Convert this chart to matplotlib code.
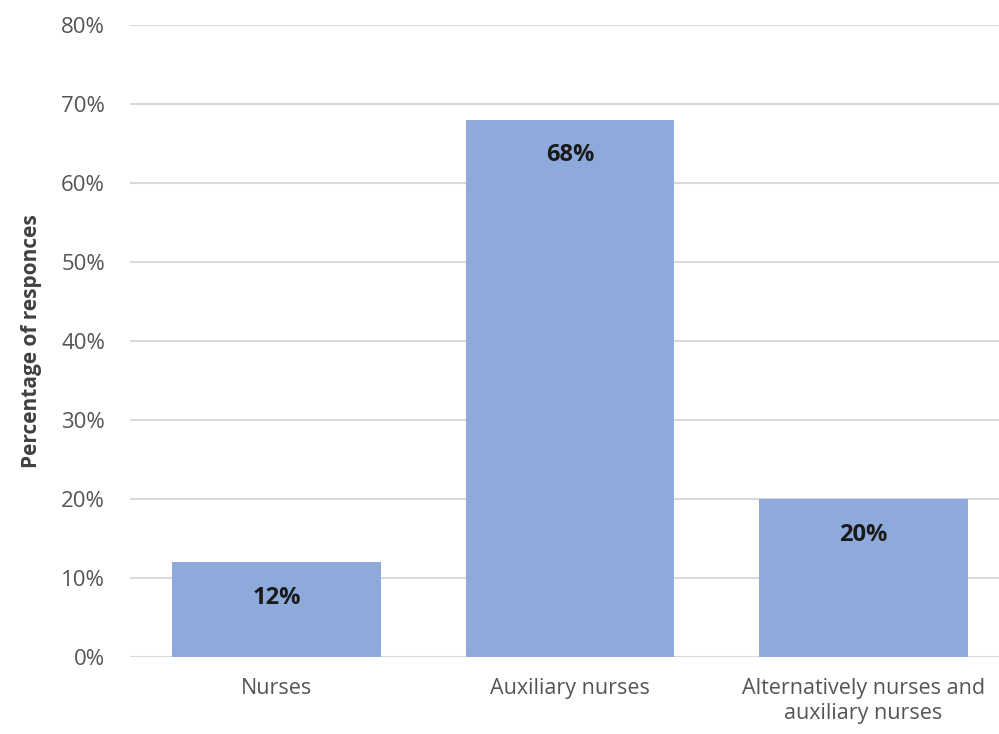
import numpy as np
import matplotlib.pyplot as plt

categories = ['Nurses', 'Auxiliary nurses', 'Alternatively nurses and\nauxiliary nurses']
values = [12, 68, 20]
yticks = [0, 10, 20, 30, 40, 50, 60, 70, 80]

plt.rcParams['font.family'] = ['Open Sans', 'DejaVu Sans']

fig = plt.figure(figsize=(9.99, 7.34), dpi=100)
ax = fig.add_axes([130 / 999, 77 / 734, 880 / 999, 632 / 734])

x = np.arange(len(categories))
bars = ax.bar(x, values, width=0.712, color='#8eaadb', zorder=2)

for b, v in zip(bars, values):
    ax.text(b.get_x() + b.get_width() / 2, v - 4.5, f'{v}%', ha='center', va='center',
            fontsize=17, fontweight='bold', color='#1a1a1a')

ax.set_xlim(-0.5, 2.5)
ax.set_ylim(0, 80)
ax.set_yticks(yticks)
ax.set_yticklabels([f'{t}%' for t in yticks])
ax.set_xticks(x)
ax.set_xticklabels(categories)
ax.yaxis.grid(True, color='#d9d9d9', linewidth=1.5, zorder=0)
ax.set_axisbelow(True)

for s in ax.spines.values():
    s.set_visible(False)
ax.tick_params(axis='both', length=0, colors='#555555')
ax.tick_params(axis='y', pad=18, labelsize=16)
ax.tick_params(axis='x', pad=15, labelsize=15.5)
for lbl in ax.get_xticklabels():
    lbl.set_linespacing(1.25)

ax.set_ylabel('Percentage of responces', fontsize=15, fontweight='bold', color='#404040')
ax.yaxis.set_label_coords(-0.1, 0.5)

fig.savefig('out.png', dpi=100)
